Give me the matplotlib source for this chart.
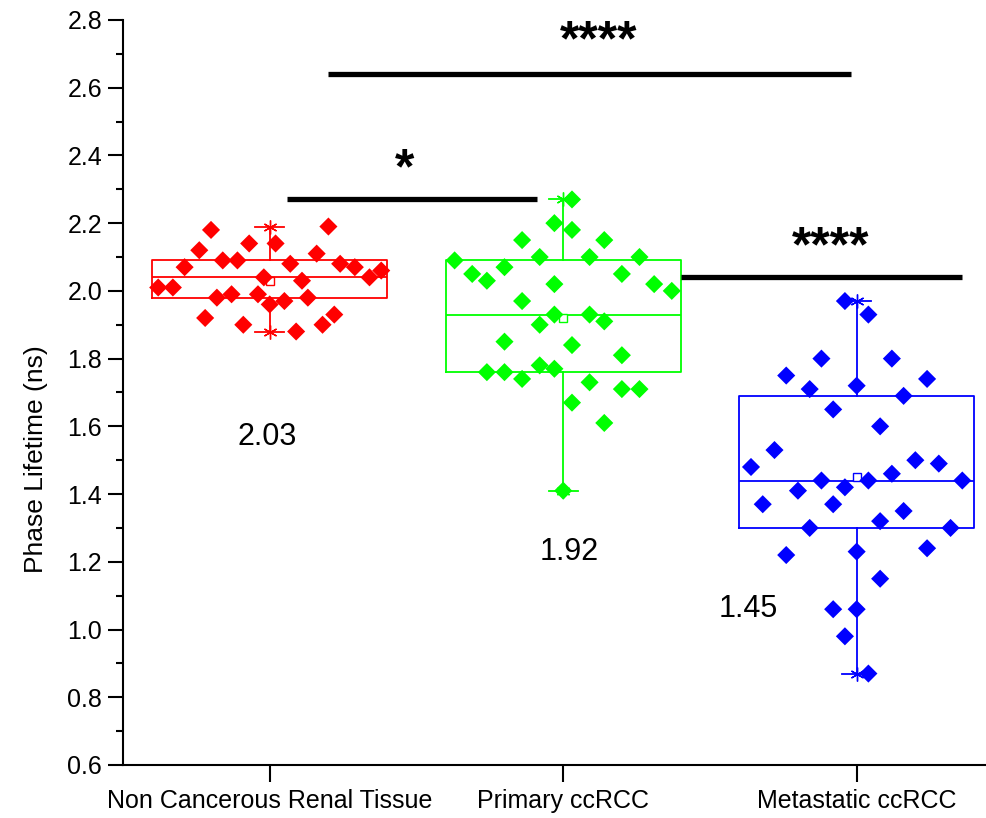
import matplotlib
matplotlib.use("Agg")
import matplotlib.pyplot as plt
from matplotlib.ticker import MultipleLocator

plt.rcParams['font.family'] = ['Liberation Sans', 'DejaVu Sans']

groups = ['Non Cancerous Renal Tissue', 'Primary ccRCC', 'Metastatic ccRCC']
colors = ['#FF0000', '#00FF00', '#0000FF']

red_vals = [2.18, 2.19, 2.12, 2.14, 2.14, 2.07, 2.09, 2.09, 2.08, 2.11, 2.08, 2.07, 2.04, 2.06, 2.01,
            2.01, 2.04, 2.03, 1.98, 1.99, 1.99, 1.96, 1.97, 1.98, 1.92, 1.90, 1.88, 1.90, 1.93]
red_jit = [-0.20, 0.20, -0.24, -0.07, 0.02, -0.29, -0.16, -0.11, 0.07, 0.16, 0.24, 0.29, 0.34, 0.38, -0.38,
           -0.33, -0.02, 0.11, -0.18, -0.13, -0.04, 0.00, 0.05, 0.13, -0.22, -0.09, 0.09, 0.18, 0.22]

green_vals = [2.27, 2.20, 2.18, 2.15, 2.15, 2.09, 2.10, 2.10, 2.10, 2.05, 2.03, 2.07, 2.05, 2.02, 2.00,
              2.02, 1.97, 1.93, 1.93, 1.90, 1.91, 1.85, 1.84, 1.81, 1.76, 1.76, 1.74, 1.78, 1.77, 1.73,
              1.71, 1.71, 1.67, 1.61, 1.41]
green_jit = [0.03, -0.03, 0.03, -0.14, 0.14, -0.37, -0.08, 0.09, 0.26, -0.31, -0.26, -0.20, 0.20, 0.31, 0.37,
             -0.03, -0.14, -0.03, 0.09, -0.08, 0.14, -0.20, 0.03, 0.20, -0.26, -0.20, -0.14, -0.08, -0.03, 0.09,
             0.20, 0.26, 0.03, 0.14, 0.00]

blue_vals = [1.97, 1.93, 1.80, 1.80, 1.75, 1.71, 1.72, 1.74, 1.69, 1.65, 1.60, 1.53, 1.48, 1.50, 1.49,
             1.44, 1.41, 1.42, 1.44, 1.46, 1.44, 1.37, 1.37, 1.35, 1.30, 1.32, 1.30, 1.22, 1.23, 1.24,
             1.15, 1.06, 1.06, 0.98, 0.87]
blue_jit = [-0.04, 0.04, -0.12, 0.12, -0.24, -0.16, 0.00, 0.24, 0.16, -0.08, 0.08, -0.28, -0.36, 0.20, 0.28,
            -0.12, -0.20, -0.04, 0.04, 0.12, 0.36, -0.32, -0.08, 0.16, -0.16, 0.08, 0.32, -0.24, 0.00, 0.24,
            0.08, -0.08, 0.00, -0.04, 0.04]

# box statistics as drawn in the figure
q1 = [1.98, 1.76, 1.30]
med = [2.04, 1.93, 1.44]
q3 = [2.09, 2.09, 1.69]
wlo = [1.88, 1.41, 0.87]
whi = [2.19, 2.27, 1.97]
means = [2.03, 1.92, 1.45]

# significance bars
sig_x0 = [1.20, 1.06, 2.40]
sig_x1 = [2.98, 1.91, 3.36]
sig_y = [2.64, 2.27, 2.04]
sig_text = ['****', '*', '****']

vals = [red_vals, green_vals, blue_vals]
jits = [red_jit, green_jit, blue_jit]
xs = [1, 2, 3]

fig = plt.figure(figsize=(9.87, 8.18), dpi=100)
ax = fig.add_axes([0.1246, 0.0648, 0.892, 0.9108])

for i in range(3):
    c = colors[i]
    st = [dict(med=med[i], q1=q1[i], q3=q3[i], whislo=wlo[i], whishi=whi[i], mean=means[i], fliers=[])]
    ax.bxp(st, positions=[xs[i]], widths=0.8, capwidths=0.1, showmeans=True, showfliers=False,
           boxprops=dict(color=c, lw=1.3), medianprops=dict(color=c, lw=1.3),
           whiskerprops=dict(color=c, lw=1.3), capprops=dict(color=c, lw=1.3),
           meanprops=dict(marker='s', mfc='white', mec=c, ms=6, mew=1), manage_ticks=False)
    ax.plot([xs[i], xs[i]], [wlo[i], whi[i]], ls='none', marker=(6, 2, 0), ms=10, mec=c, mew=1, zorder=3)
    px = [xs[i] + j for j in jits[i]]
    ax.scatter(px, vals[i], marker='D', s=85, color=c, edgecolors='none', zorder=4)

for x0, x1, y in zip(sig_x0, sig_x1, sig_y):
    ax.plot([x0, x1], [y, y], color='black', lw=3.8, solid_capstyle='butt')

ax.text(2.12, 2.735, sig_text[0], ha='center', va='center', fontsize=36, fontweight='bold')
ax.text(1.46, 2.355, sig_text[1], ha='center', va='center', fontsize=36, fontweight='bold')
ax.text(2.91, 2.125, sig_text[2], ha='center', va='center', fontsize=36, fontweight='bold')

lbl_x = [0.99, 2.02, 2.63]
lbl_y = [1.57, 1.23, 1.06]
for x, y, m in zip(lbl_x, lbl_y, means):
    ax.text(x, y, f'{m:.2f}', ha='center', va='center', fontsize=22)

ax.set_xlim(0.5, 3.5)
ax.set_ylim(0.6, 2.8)
ax.yaxis.set_major_locator(MultipleLocator(0.2))
ax.yaxis.set_minor_locator(MultipleLocator(0.1))
ax.set_yticklabels([f'{t:.1f}' for t in ax.get_yticks()])
ax.set_xticks(xs)
ax.set_xticklabels(groups, fontsize=18)
ax.tick_params(axis='y', which='major', length=11, width=1.5, labelsize=18, pad=4)
ax.tick_params(axis='y', which='minor', length=5, width=1.5)
ax.tick_params(axis='x', which='major', length=12, width=1.5, pad=5)
for s in ['top', 'right']:
    ax.spines[s].set_visible(False)
for s in ['left', 'bottom']:
    ax.spines[s].set_linewidth(1.5)
ax.set_ylabel('Phase Lifetime (ns)', fontsize=19)
ax.yaxis.set_label_coords(-0.085, 0.41)

plt.savefig('out.png', dpi=100)
